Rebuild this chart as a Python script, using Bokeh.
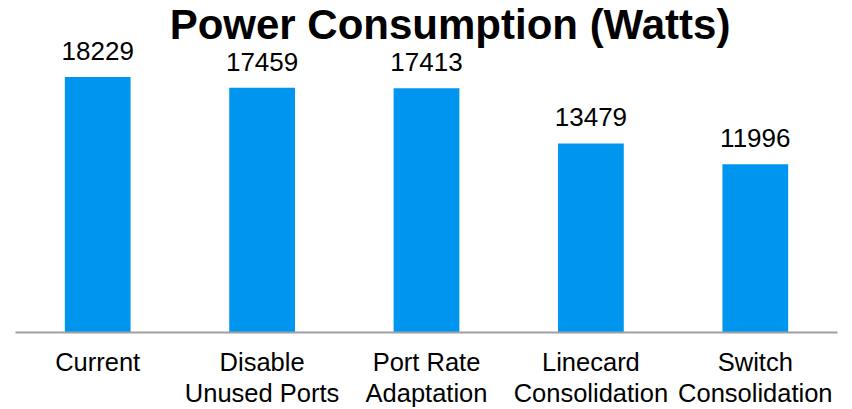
from bokeh.plotting import figure
from bokeh.models import ColumnDataSource, FactorRange, Range1d, LabelSet, Label
from bokeh.core.properties import value
from bokeh.embed import file_html
from bokeh.resources import INLINE

categories = ["Current", "Disable\nUnused Ports", "Port Rate\nAdaptation",
              "Linecard\nConsolidation", "Switch\nConsolidation"]
values = [18229, 17459, 17413, 13479, 11996]
value_labels = [str(v) for v in values]
title_text = "Power Consumption (Watts)"

FONT = "Liberation Sans"

src = ColumnDataSource(dict(x=categories, top=values, lab=value_labels))

p = figure(width=852, height=409, x_range=FactorRange(*categories),
           y_range=Range1d(0, 23677), output_backend="svg",
           toolbar_location=None, min_border_left=15, min_border_right=15,
           min_border_top=0, min_border_bottom=0)

p.vbar(x="x", top="top", width=0.4, source=src, color="#0096F0", line_color=None)

p.add_layout(LabelSet(x="x", y="top", text="lab", source=src, y_offset=17,
                      text_align="center", text_baseline="alphabetic",
                      text_font=value(FONT), text_font_size=value("26px"),
                      text_color="#000000"))

p.add_layout(Label(x=2.643, y=21958, text=title_text, text_align="center",
                   text_baseline="alphabetic", text_font=FONT,
                   text_font_size="42px", text_font_style="bold", text_color="#000000"))

p.yaxis.visible = False
p.xgrid.grid_line_color = None
p.ygrid.grid_line_color = None
p.outline_line_color = None
p.xaxis.axis_line_color = "#A0A0A0"
p.xaxis.axis_line_width = 2
p.xaxis.major_tick_line_color = None
p.xaxis.major_tick_in = 0
p.xaxis.major_tick_out = 0
p.xaxis.major_label_standoff = 15
p.xaxis.major_label_text_line_height = 1.11
p.xaxis.major_label_text_font = FONT
p.xaxis.major_label_text_font_size = "25.5px"
p.xaxis.major_label_text_color = "#000000"

open("out.html", "w").write(file_html(p, INLINE))
